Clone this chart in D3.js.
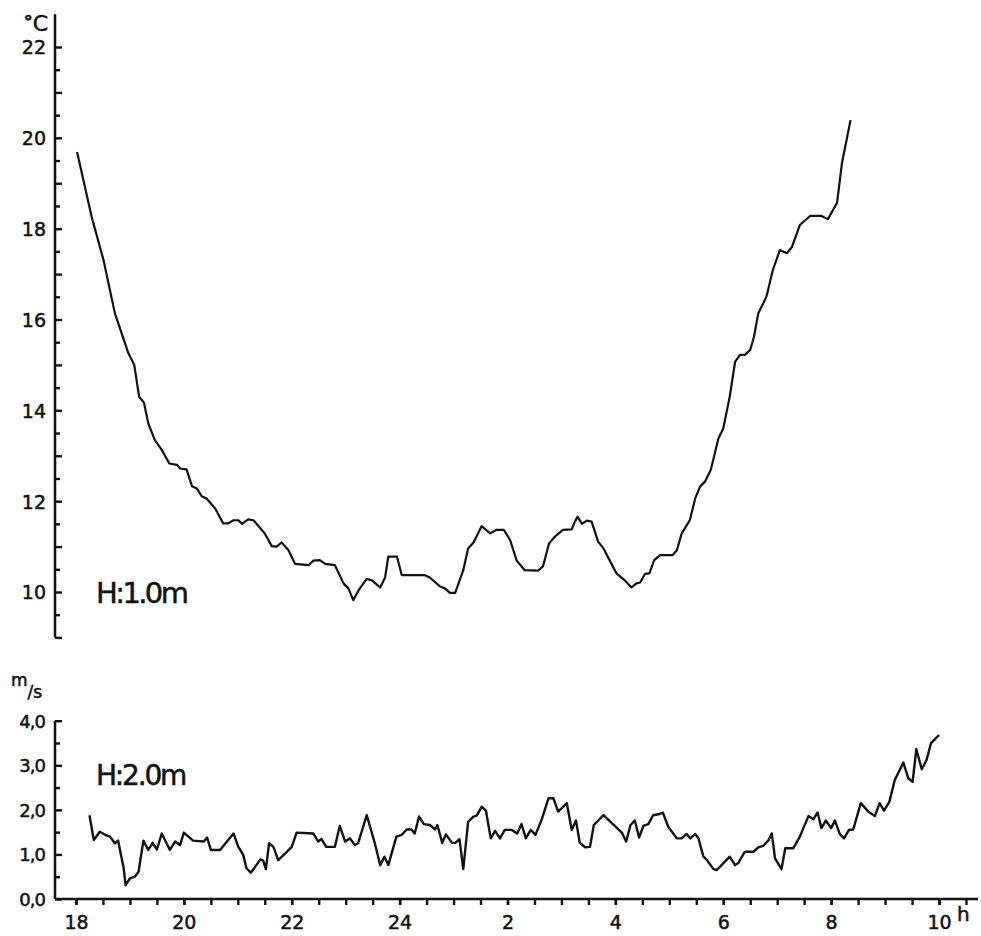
<!DOCTYPE html>
<html lang="en">
<head>
    <meta charset="UTF-8">
    <title>Temperature and wind speed</title>
    <script src="https://d3js.org/d3.v7.min.js"></script>
    <style>
        body { margin: 0; background: #fff; }
        svg text { font-family: "DejaVu Sans", sans-serif; fill: #111; stroke: #111; stroke-width: 0.5px; }
        .axis path { display: none; }
        .axis line { stroke: #111; stroke-width: 2.4; }
    </style>
</head>
<body>
    <svg id="chart" width="981" height="936"></svg>

    <script>
        // hours are counted continuously from 18 (so 26 = 2 h next morning)
        const tempHour = [18.02, 18.29, 18.51, 18.72, 18.97, 19.08, 19.17, 19.26, 19.34, 19.46, 19.59, 19.73, 19.87, 19.93, 20.05,
            20.15, 20.24, 20.33, 20.42, 20.58, 20.73, 20.82, 20.92, 21.01, 21.08, 21.19, 21.29, 21.50, 21.63, 21.72, 21.81, 21.94,
            22.06, 22.31, 22.40, 22.52, 22.62, 22.80, 22.96, 23.05, 23.14, 23.24, 23.39, 23.48, 23.64, 23.73, 23.79, 23.95, 24.04,
            24.47, 24.56, 24.75, 24.84, 24.93, 25.03, 25.18, 25.27, 25.37, 25.52, 25.68, 25.80, 25.93, 26.05, 26.17, 26.32, 26.57,
            26.66, 26.77, 26.88, 27.03, 27.19, 27.25, 27.30, 27.38, 27.47, 27.56, 27.68, 27.78, 28.02, 28.18, 28.30, 28.39, 28.46,
            28.55, 28.63, 28.72, 28.83, 29.06, 29.14, 29.23, 29.38, 29.48, 29.57, 29.66, 29.77, 29.91, 30.00, 30.12, 30.22, 30.31,
            30.40, 30.50, 30.57, 30.65, 30.80, 30.92, 31.05, 31.18, 31.27, 31.42, 31.61, 31.82, 31.94, 32.11, 32.20, 32.36];
        const tempC = [19.69, 18.26, 17.31, 16.14, 15.26, 15.00, 14.30, 14.17, 13.71, 13.35, 13.13, 12.83, 12.80, 12.72, 12.70,
            12.33, 12.28, 12.11, 12.06, 11.84, 11.51, 11.51, 11.58, 11.58, 11.50, 11.60, 11.58, 11.29, 11.01, 11.00, 11.09, 10.92,
            10.62, 10.59, 10.69, 10.70, 10.62, 10.59, 10.19, 10.08, 9.82, 10.04, 10.29, 10.26, 10.10, 10.32, 10.78, 10.78, 10.37,
            10.37, 10.32, 10.12, 10.08, 9.98, 9.98, 10.48, 10.96, 11.09, 11.45, 11.29, 11.37, 11.37, 11.14, 10.69, 10.48, 10.47,
            10.57, 11.07, 11.22, 11.37, 11.38, 11.55, 11.66, 11.50, 11.57, 11.55, 11.11, 10.96, 10.41, 10.25, 10.10, 10.19, 10.21,
            10.40, 10.41, 10.70, 10.81, 10.81, 10.92, 11.29, 11.58, 12.06, 12.32, 12.43, 12.69, 13.38, 13.60, 14.30, 15.07, 15.22,
            15.22, 15.33, 15.62, 16.14, 16.50, 17.09, 17.53, 17.46, 17.59, 18.08, 18.28, 18.28, 18.21, 18.57, 19.44, 20.39];

        const windHour = [18.25, 18.33, 18.44, 18.54, 18.63, 18.72, 18.78, 18.88, 18.92, 19.00, 19.09, 19.16, 19.25, 19.34, 19.42,
            19.50, 19.59, 19.74, 19.84, 19.93, 20.00, 20.17, 20.37, 20.43, 20.50, 20.67, 20.92, 21.01, 21.10, 21.16, 21.24, 21.32,
            21.42, 21.47, 21.52, 21.58, 21.66, 21.75, 21.87, 22.00, 22.09, 22.40, 22.49, 22.55, 22.64, 22.80, 22.89, 22.99, 23.08,
            23.17, 23.23, 23.39, 23.54, 23.64, 23.72, 23.79, 23.94, 24.04, 24.13, 24.22, 24.28, 24.36, 24.45, 24.56, 24.66, 24.70,
            24.79, 24.86, 24.97, 25.03, 25.11, 25.18, 25.27, 25.37, 25.43, 25.52, 25.60, 25.69, 25.77, 25.86, 25.95, 26.08, 26.18,
            26.26, 26.34, 26.43, 26.52, 26.63, 26.76, 26.85, 26.94, 27.10, 27.19, 27.27, 27.34, 27.44, 27.53, 27.60, 27.78, 28.12,
            28.20, 28.28, 28.36, 28.44, 28.52, 28.61, 28.70, 28.80, 28.88, 28.98, 29.14, 29.23, 29.32, 29.39, 29.48, 29.54, 29.63,
            29.70, 29.82, 29.88, 30.12, 30.22, 30.28, 30.40, 30.56, 30.65, 30.74, 30.84, 30.90, 30.96, 31.08, 31.15, 31.30, 31.42,
            31.58, 31.67, 31.75, 31.82, 31.90, 32.00, 32.07, 32.16, 32.24, 32.33, 32.41, 32.55, 32.69, 32.81, 32.90, 32.98, 33.08,
            33.18, 33.34, 33.43, 33.51, 33.58, 33.68, 33.77, 33.85, 34.00];
        const windMs = [1.88, 1.32, 1.51, 1.44, 1.40, 1.25, 1.31, 0.72, 0.31, 0.46, 0.50, 0.61, 1.31, 1.10, 1.26,
            1.11, 1.47, 1.10, 1.29, 1.21, 1.49, 1.31, 1.29, 1.38, 1.10, 1.10, 1.47, 1.17, 0.99, 0.69, 0.59, 0.72,
            0.89, 0.86, 0.67, 1.25, 1.17, 0.87, 1.01, 1.17, 1.49, 1.47, 1.29, 1.35, 1.17, 1.17, 1.64, 1.29, 1.36,
            1.21, 1.25, 1.88, 1.25, 0.76, 0.95, 0.76, 1.40, 1.44, 1.56, 1.56, 1.47, 1.85, 1.68, 1.66, 1.56, 1.66,
            1.26, 1.45, 1.26, 1.26, 1.34, 0.67, 1.73, 1.85, 1.87, 2.07, 1.98, 1.36, 1.53, 1.36, 1.55, 1.55, 1.47,
            1.68, 1.36, 1.55, 1.44, 1.77, 2.26, 2.26, 1.96, 2.15, 1.55, 1.76, 1.26, 1.16, 1.17, 1.66, 1.88, 1.49,
            1.29, 1.66, 1.76, 1.38, 1.64, 1.68, 1.88, 1.90, 1.94, 1.62, 1.36, 1.36, 1.46, 1.36, 1.46, 1.36, 0.96,
            0.87, 0.67, 0.65, 0.95, 0.76, 0.81, 1.06, 1.06, 1.16, 1.19, 1.32, 1.47, 0.91, 0.67, 1.14, 1.14, 1.40,
            1.86, 1.79, 1.94, 1.59, 1.76, 1.59, 1.76, 1.46, 1.36, 1.55, 1.56, 2.15, 1.96, 1.86, 2.15, 1.98, 2.18,
            2.67, 3.06, 2.71, 2.63, 3.36, 2.91, 3.12, 3.49, 3.68];

        const hourTicks = [18, 20, 22, 24, 26, 28, 30, 32, 34];
        const hourLabels = ['18', '20', '22', '24', '2', '4', '6', '8', '10'];
        const tempTicks = [10, 12, 14, 16, 18, 20, 22];
        const windTicks = [0, 1, 2, 3, 4];
        const windLabels = ['0,0', '1,0', '2,0', '3,0', '4,0'];

        const svg = d3.select('#chart');
        const axisX = 55;

        // scales
        const x = d3.scaleLinear().domain([18, 34]).range([76, 939]);
        const yT = d3.scaleLinear().domain([10, 22]).range([592, 47]);
        const yW = d3.scaleLinear().domain([0, 4]).range([899, 720.7]);

        const halfSteps = (a, b) => d3.range(a, b + 0.001, 0.5);

        // ---- top panel: temperature ----
        const gT = svg.append('g').attr('transform', `translate(${axisX},0)`);
        gT.append('g').attr('class', 'axis')
            .call(d3.axisLeft(yT).tickValues(halfSteps(9, 22).filter(v => v % 1 !== 0)).tickSize(-5).tickFormat(''));
        gT.append('g').attr('class', 'axis')
            .call(d3.axisLeft(yT).tickValues(d3.range(9, 23)).tickSize(-7)
                .tickFormat(d => tempTicks.includes(d) ? d : '').tickPadding(9))
            .selectAll('text').style('font-size', '19px').attr('dy', '0.36em');
        gT.append('line')
            .attr('x1', 0).attr('x2', 0)
            .attr('y1', yT(9)).attr('y2', yT(22.72))
            .attr('stroke', '#111').attr('stroke-width', 2.5);

        const deg = svg.append('text').attr('x', 48).attr('y', 31).attr('text-anchor', 'end');
        deg.append('tspan').attr('dy', '-3').style('font-size', '18px').style('font-weight', 'bold').text('°');
        deg.append('tspan').attr('dy', '3').style('font-size', '22px').text('C');

        svg.append('path')
            .datum(d3.zip(tempHour, tempC))
            .attr('fill', 'none').attr('stroke', '#111').attr('stroke-width', 2.2)
            .attr('stroke-linejoin', 'round')
            .attr('d', d3.line().x(d => x(d[0])).y(d => yT(d[1])));

        svg.append('text').attr('x', 96).attr('y', 603)
            .style('font-size', '29px').style('letter-spacing', '-2.6px').text('H:1.0m');

        // ---- bottom panel: wind speed ----
        const gW = svg.append('g').attr('transform', `translate(${axisX},0)`);
        gW.append('g').attr('class', 'axis')
            .call(d3.axisLeft(yW).tickValues([0.5, 1.5, 2.5, 3.5]).tickSize(-5).tickFormat(''));
        gW.append('g').attr('class', 'axis')
            .call(d3.axisLeft(yW).tickValues(windTicks).tickSize(-7)
                .tickFormat((d, i) => windLabels[i]).tickPadding(10))
            .selectAll('text').style('font-size', '18px').style('letter-spacing', '-1px').attr('dy', '0.36em');
        gW.append('line')
            .attr('x1', 0).attr('x2', 0)
            .attr('y1', yW(0)).attr('y2', yW(4))
            .attr('stroke', '#111').attr('stroke-width', 2.5);

        // unit m/s, written as a small fraction
        const unit = svg.append('text').attr('x', 11).attr('y', 686).style('font-size', '17px');
        unit.append('tspan').text('m');
        unit.append('tspan').attr('dy', 12).text('/s');

        // x axis
        const gX = svg.append('g').attr('transform', `translate(0,${yW(0)})`);
        gX.append('g').attr('class', 'axis')
            .call(d3.axisBottom(x).tickValues(halfSteps(18, 34.5)).tickSize(6).tickFormat(''));
        gX.append('g').attr('class', 'axis')
            .call(d3.axisBottom(x).tickValues(hourTicks).tickSize(6)
                .tickFormat((d, i) => hourLabels[i]).tickPadding(11))
            .selectAll('text').style('font-size', '19px');
        gX.append('line')
            .attr('x1', axisX).attr('x2', 978)
            .attr('stroke', '#111').attr('stroke-width', 2.5);

        svg.append('text').attr('x', 957).attr('y', 921)
            .style('font-size', '20px').text('h');

        svg.append('path')
            .datum(d3.zip(windHour, windMs))
            .attr('fill', 'none').attr('stroke', '#111').attr('stroke-width', 2.4)
            .attr('stroke-linejoin', 'round')
            .attr('d', d3.line().x(d => x(d[0])).y(d => yW(d[1])));

        svg.append('text').attr('x', 96).attr('y', 785)
            .style('font-size', '28px').style('letter-spacing', '-2.2px').text('H:2.0m');
    </script>
</body>
</html>
